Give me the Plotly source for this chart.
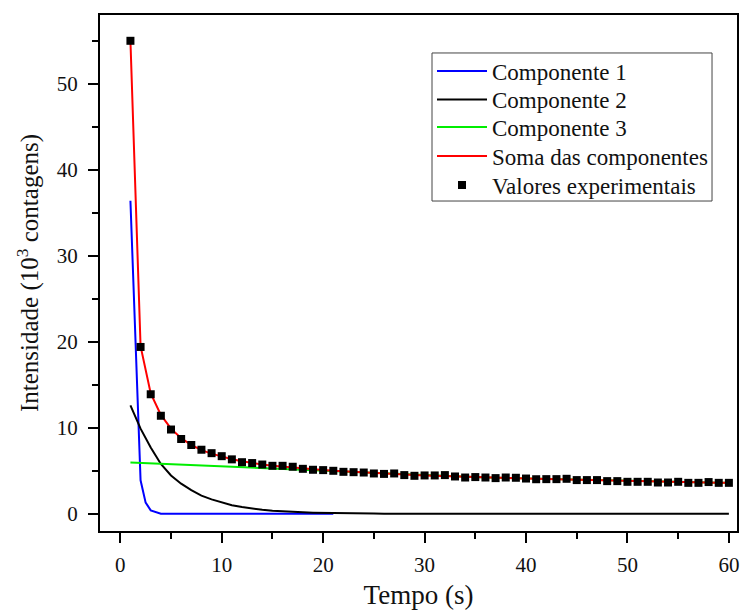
import plotly.graph_objects as go

# Time axis (s) for the experimental series and the fitted curves
t_exp = list(range(1, 61))

# Experimental intensities (10^3 counts)
valores_exp = [
    55.0, 19.4, 13.9, 11.4, 9.8, 8.7, 8.0, 7.45, 7.05, 6.7,
    6.33, 6.0, 5.9, 5.73, 5.58, 5.58, 5.47, 5.23, 5.12, 5.08,
    5.0, 4.88, 4.84, 4.8, 4.69, 4.64, 4.69, 4.5, 4.42, 4.46,
    4.46, 4.5, 4.34, 4.22, 4.27, 4.22, 4.15, 4.22, 4.19, 4.1,
    4.02, 4.03, 4.03, 4.07, 3.92, 3.92, 3.92, 3.8, 3.8, 3.72,
    3.72, 3.72, 3.64, 3.64, 3.72, 3.6, 3.6, 3.69, 3.6, 3.6,
]

# Component 1 (fast decay)
t_comp1 = [1, 2, 2.5, 3, 4, 5, 6, 7, 8, 9, 10, 11, 12, 13, 14, 15, 16, 17, 18, 19, 20, 21]
comp1 = [36.4, 3.9, 1.3, 0.4, 0.02, 0, 0, 0, 0, 0, 0, 0, 0, 0, 0, 0, 0, 0, 0, 0, 0, 0]

# Component 2 (intermediate decay)
comp2 = [
    12.6, 9.9, 7.7, 5.8, 4.45, 3.5, 2.75, 2.12, 1.68, 1.3,
    1.0, 0.78, 0.6, 0.47, 0.36, 0.28, 0.22, 0.17, 0.13, 0.1,
    0.08, 0.06, 0.05, 0.04, 0.03, 0.02, 0.02, 0.01, 0.01, 0.01,
    0, 0, 0, 0, 0, 0, 0, 0, 0, 0,
    0, 0, 0, 0, 0, 0, 0, 0, 0, 0,
    0, 0, 0, 0, 0, 0, 0, 0, 0, 0,
]

# Component 3 (slow decay)
comp3 = [
    5.97, 5.92, 5.86, 5.81, 5.76, 5.71, 5.66, 5.61, 5.56, 5.51,
    5.46, 5.41, 5.36, 5.31, 5.26, 5.2, 5.14, 5.09, 5.03, 4.98,
    4.92, 4.87, 4.82, 4.76, 4.71, 4.66, 4.6, 4.55, 4.5, 4.45,
    4.41, 4.37, 4.33, 4.29, 4.26, 4.23, 4.2, 4.17, 4.14, 4.1,
    4.07, 4.04, 4.01, 3.98, 3.95, 3.92, 3.89, 3.86, 3.83, 3.8,
    3.78, 3.75, 3.73, 3.71, 3.69, 3.67, 3.65, 3.63, 3.61, 3.6,
]

# Sum of the three components
soma = [
    55.0, 19.5, 14.0, 11.5, 9.9, 8.8, 8.0, 7.4, 7.0, 6.65,
    6.35, 6.1, 5.9, 5.73, 5.6, 5.48, 5.37, 5.25, 5.16, 5.08,
    5.0, 4.93, 4.87, 4.8, 4.74, 4.68, 4.62, 4.56, 4.51, 4.46,
    4.42, 4.38, 4.34, 4.3, 4.26, 4.23, 4.2, 4.17, 4.14, 4.1,
    4.07, 4.04, 4.01, 3.98, 3.95, 3.92, 3.89, 3.86, 3.83, 3.8,
    3.78, 3.75, 3.73, 3.71, 3.69, 3.67, 3.65, 3.63, 3.61, 3.6,
]

nomes = ["Componente 1", "Componente 2", "Componente 3",
         "Soma das componentes", "Valores experimentais"]

FONT = "Liberation Serif, Times New Roman, serif"

fig = go.Figure()
fig.add_trace(go.Scatter(x=t_comp1, y=comp1, mode="lines", name=nomes[0],
                         line=dict(color="#0000ff", width=2), legend="legend"))
fig.add_trace(go.Scatter(x=t_exp, y=comp2, mode="lines", name=nomes[1],
                         line=dict(color="#000000", width=2), legend="legend2"))
fig.add_trace(go.Scatter(x=t_exp, y=comp3, mode="lines", name=nomes[2],
                         line=dict(color="#00ee00", width=2), legend="legend3"))
fig.add_trace(go.Scatter(x=t_exp, y=soma, mode="lines", name=nomes[3],
                         line=dict(color="#ff0000", width=2), legend="legend4"))
fig.add_trace(go.Scatter(x=t_exp, y=valores_exp, mode="markers", name=nomes[4],
                         marker=dict(symbol="square", size=8, color="#000000"),
                         legend="legend5"))

axis_common = dict(
    showline=True, linecolor="#000000", linewidth=2, mirror=True,
    ticks="outside", ticklen=10, tickwidth=2, tickcolor="#000000",
    showgrid=False, zeroline=False, automargin=False,
    tickfont=dict(family=FONT, size=21, color="#111111"),
)
minor_common = dict(dtick=5, ticks="outside", ticklen=6, tickwidth=2, tickcolor="#000000")

# One single-entry legend per trace, stacked inside a framed box
legend_rows = [0.8915, 0.8363, 0.7829, 0.7267, 0.6705]
legend_layouts = {}
for i, yrow in enumerate(legend_rows):
    key = "legend" if i == 0 else f"legend{i + 1}"
    legend_layouts[key] = dict(
        x=0.5212, y=yrow, xanchor="left", yanchor="middle",
        bgcolor="rgba(0,0,0,0)", borderwidth=0,
        font=dict(family=FONT, size=23, color="#111111"),
        itemwidth=50, tracegroupgap=0,
    )

fig.update_layout(
    width=741, height=610,
    margin=dict(l=100, r=4, t=15, b=79),
    paper_bgcolor="white", plot_bgcolor="white",
    font=dict(family=FONT, color="#111111"),
    xaxis=dict(
        range=[-2, 60.8], dtick=10, tick0=0, minor=minor_common,
        ticklabelstandoff=4,
        title=dict(text="Tempo (s)", font=dict(family=FONT, size=27), standoff=14),
        **axis_common,
    ),
    yaxis=dict(
        range=[-2, 58], dtick=10, tick0=0, minor=minor_common,
        ticklabelstandoff=6,
        title=dict(text="Intensidade (10<sup>3</sup> contagens)",
                   font=dict(family=FONT, size=25), standoff=11),
        **axis_common,
    ),
    shapes=[dict(
        type="rect", xref="paper", yref="paper",
        x0=0.5212, x1=0.9608, y0=0.6395, y1=0.9264,
        line=dict(color="#444444", width=1), fillcolor="white", layer="above",
    )],
    showlegend=True,
    **legend_layouts,
)

fig.write_html("out.html")
